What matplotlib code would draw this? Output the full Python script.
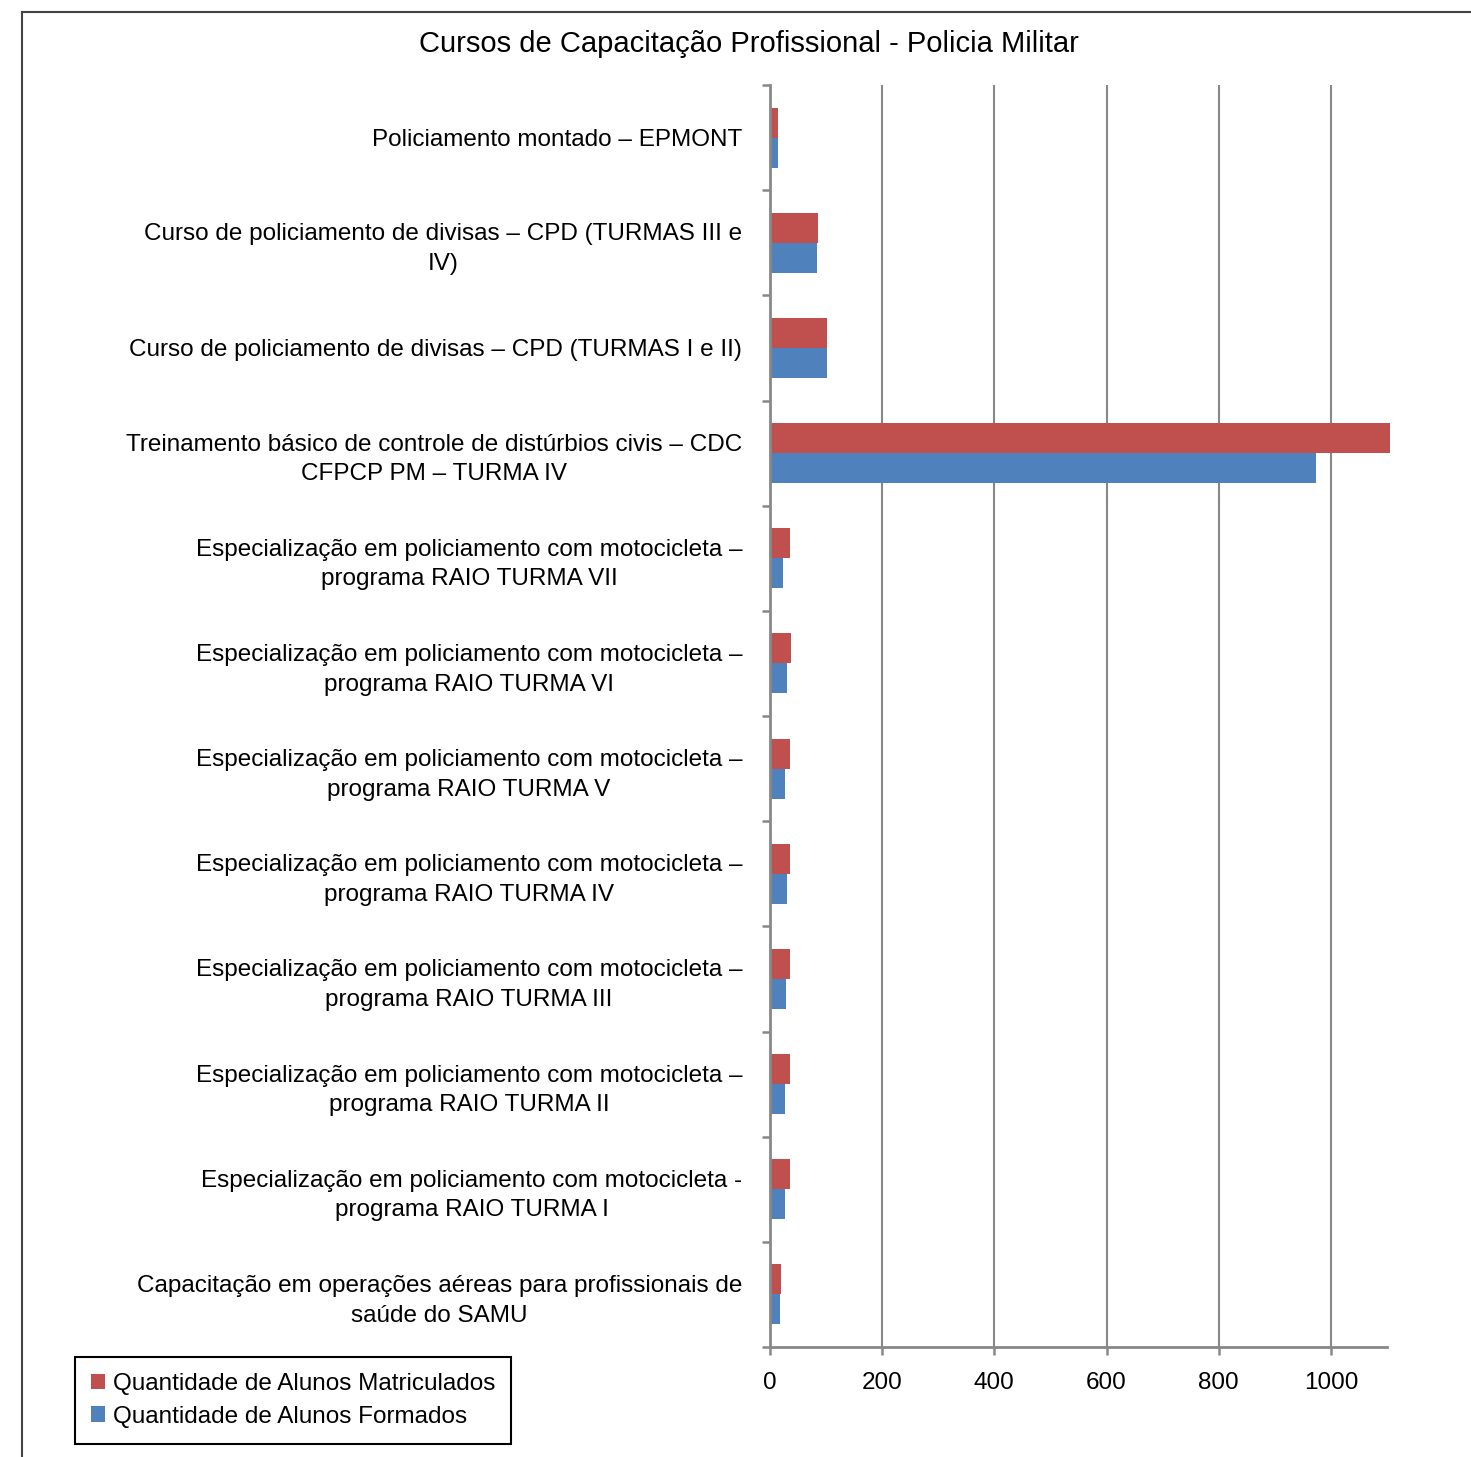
import numpy as np
import matplotlib.pyplot as plt
from matplotlib.lines import Line2D

plt.rcParams['font.family'] = ['Liberation Sans', 'DejaVu Sans']

cursos = [
    'Policiamento montado – EPMONT',
    'Curso de policiamento de divisas – CPD (TURMAS III e\nIV)',
    'Curso de policiamento de divisas – CPD (TURMAS I e II)',
    'Treinamento básico de controle de distúrbios civis – CDC\nCFPCP PM – TURMA IV',
    'Especialização em policiamento com motocicleta –\nprograma RAIO TURMA VII',
    'Especialização em policiamento com motocicleta –\nprograma RAIO TURMA VI',
    'Especialização em policiamento com motocicleta –\nprograma RAIO TURMA V',
    'Especialização em policiamento com motocicleta –\nprograma RAIO TURMA IV',
    'Especialização em policiamento com motocicleta –\nprograma RAIO TURMA III',
    'Especialização em policiamento com motocicleta –\nprograma RAIO TURMA II',
    'Especialização em policiamento com motocicleta -\nprograma RAIO TURMA I',
    'Capacitação em operações aéreas para profissionais de\nsaúde do SAMU',
]
matriculados = [15, 85, 102, 1105, 35, 37, 35, 35, 35, 35, 35, 19]
formados = [15, 83, 102, 973, 23, 30, 27, 31, 29, 27, 27, 18]

vermelho = '#C0504D'
azul = '#4F81BD'
cinza = '#888888'

fig = plt.figure(figsize=(14.71, 14.57), dpi=100)
ax = fig.add_axes([770/1471, 1 - 1347/1457, 617/1471, 1262/1457])

y = np.arange(len(cursos))
h = 0.285
ax.barh(y - h/2, matriculados, height=h, color=vermelho, clip_on=False,
        label='Quantidade de Alunos Matriculados')
ax.barh(y + h/2, formados, height=h, color=azul,
        label='Quantidade de Alunos Formados')

ax.set_xlim(0, 1100)
ax.set_ylim(len(cursos) - 0.5, -0.5)
ax.set_xticks([0, 200, 400, 600, 800, 1000])
ax.grid(axis='x', color=cinza, linewidth=1.5)
ax.set_axisbelow(True)

ax.set_yticks(y)
ax.set_yticklabels(cursos, multialignment='center', linespacing=1.45)
ax.set_yticks(np.arange(-0.5, len(cursos)), minor=True)
ax.tick_params(axis='y', which='major', length=0, pad=20, labelsize=17.5)
ax.tick_params(axis='y', which='minor', length=6, width=1.8, color=cinza)
ax.tick_params(axis='x', length=6, width=1.8, color=cinza, pad=12, labelsize=17.5)

for s in ['top', 'right']:
    ax.spines[s].set_visible(False)
for s in ['left', 'bottom']:
    ax.spines[s].set_color(cinza)
    ax.spines[s].set_linewidth(2)

fig.text(749/1471, 1 - 44/1457, 'Cursos de Capacitação Profissional - Policia Militar',
         ha='center', va='center', fontsize=21)

leg = fig.legend(loc='upper left', bbox_to_anchor=(75/1471, 1 - 1357/1457),
                 fontsize=17.5, fancybox=False, edgecolor='black', framealpha=1,
                 handlelength=0.6, handleheight=0.6, handletextpad=0.3,
                 borderaxespad=0, labelspacing=0.45, borderpad=0.65)
leg.get_frame().set_linewidth(1.5)

# moldura do grafico
fig.add_artist(Line2D([22/1471, 22/1471], [0, 1 - 12/1457], color='#444444', lw=1.5))
fig.add_artist(Line2D([22/1471, 1], [1 - 12/1457, 1 - 12/1457], color='#444444', lw=1.5))

fig.savefig('out.png', dpi=100)
